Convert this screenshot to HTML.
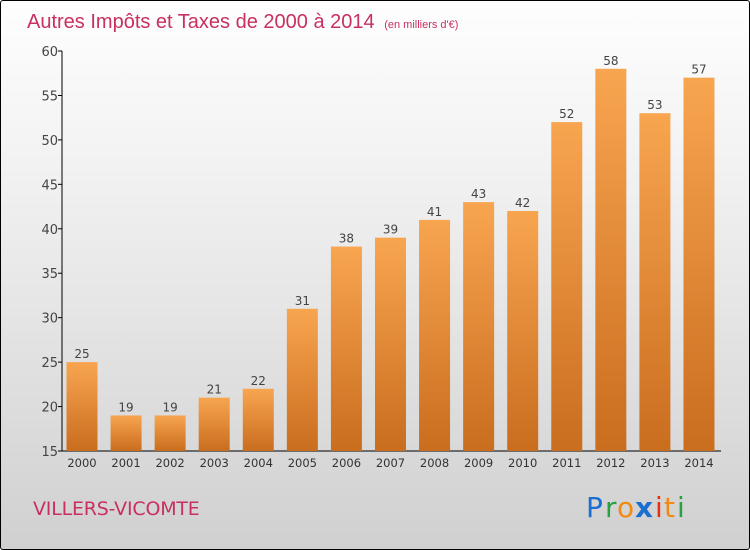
<!DOCTYPE html>
<html><head><meta charset="utf-8"><style>
html,body{margin:0;padding:0}
#chart{position:relative;width:748px;height:548px;border:1px solid #000;border-radius:3px;background:linear-gradient(#fefefe,#f2f2f2 30%,#d0d0d0);font-family:"DejaVu Sans","Liberation Sans",sans-serif;overflow:hidden}
</style></head><body>
<div id="chart">
<svg id="svg" width="748" height="548">
<defs><linearGradient id="bg" x1="0" y1="0" x2="0" y2="1"><stop offset="0" stop-color="#f8a550"/><stop offset="1" stop-color="#c96d1e"/></linearGradient></defs>
<text x="26" y="27" font-size="20" fill="#c8305f" font-family="'Liberation Sans',sans-serif">Autres Impôts et Taxes de 2000 à 2014 <tspan font-size="11" dx="4">(en milliers d'€)</tspan></text>
<text x="32" y="514" font-size="19" fill="#c8305f" letter-spacing="-0.2">VILLERS-VICOMTE</text>
<g font-size="28" font-family="'DejaVu Sans',sans-serif">
<text x="585" y="516" fill="#1a6fd0">P</text><text x="604" y="516" fill="#2aa040">r</text><text x="616" y="516" fill="#f28a10">o</text><text x="634" y="516" fill="#1a6fd0" font-weight="bold">x</text><text x="654" y="516" fill="#e83010">i</text><text x="663" y="516" fill="#f28a10">t</text><text x="676" y="516" fill="#2aa040">i</text></g>
<g id="axes"></g><g id="bars"></g>
</svg></div>
<script>
const years=["2000","2001","2002","2003","2004","2005","2006","2007","2008","2009","2010","2011","2012","2013","2014"];
const values=[25,19,19,21,22,31,38,39,41,43,42,52,58,53,57];
const yTicks=[15,20,25,30,35,40,45,50,55,60];
const NS="http://www.w3.org/2000/svg";
const yMin=15,yMax=60,top0=50,bot=450,axX=61,x0=81,step=44.07,bw=31;
const y=v=>bot-(v-yMin)/(yMax-yMin)*(bot-top0);
const x=i=>x0+i*step;
function mk(t,a,p){const e=document.createElementNS(NS,t);for(const k in a)e.setAttribute(k,a[k]);p.appendChild(e);return e;}
const ax=document.getElementById('axes'),bg=document.getElementById('bars');
const yl=mk('line',{x1:axX,y1:top0,x2:axX,y2:bot,stroke:'#000'},ax);


const xl=mk('line',{x1:axX,y1:bot,x2:720,y2:bot,stroke:'#000'},ax);


yTicks.forEach(v=>{
 mk('line',{x1:axX-4,y1:y(v),x2:axX,y2:y(v),stroke:'#000'},ax);
 const t=mk('text',{x:axX-4,y:y(v)+5,'text-anchor':'end','font-size':13,fill:'#444'},ax);t.textContent=v;
 
 
});
years.forEach((yr,i)=>{
 const r=mk('rect',{x:x(i)-bw/2,y:y(values[i]),width:bw,height:bot-y(values[i]),fill:'url(#bg)'},bg);
 
 
 const l=mk('text',{x:x(i),y:y(values[i])-4,'text-anchor':'middle','font-size':12,fill:'#444'},bg);l.textContent=values[i];
 
 
 const t=mk('text',{x:x(i),y:bot+16,'text-anchor':'middle','font-size':11.5,fill:'#333'},ax);t.textContent=yr;
 
 
});
</script>
</body></html>
